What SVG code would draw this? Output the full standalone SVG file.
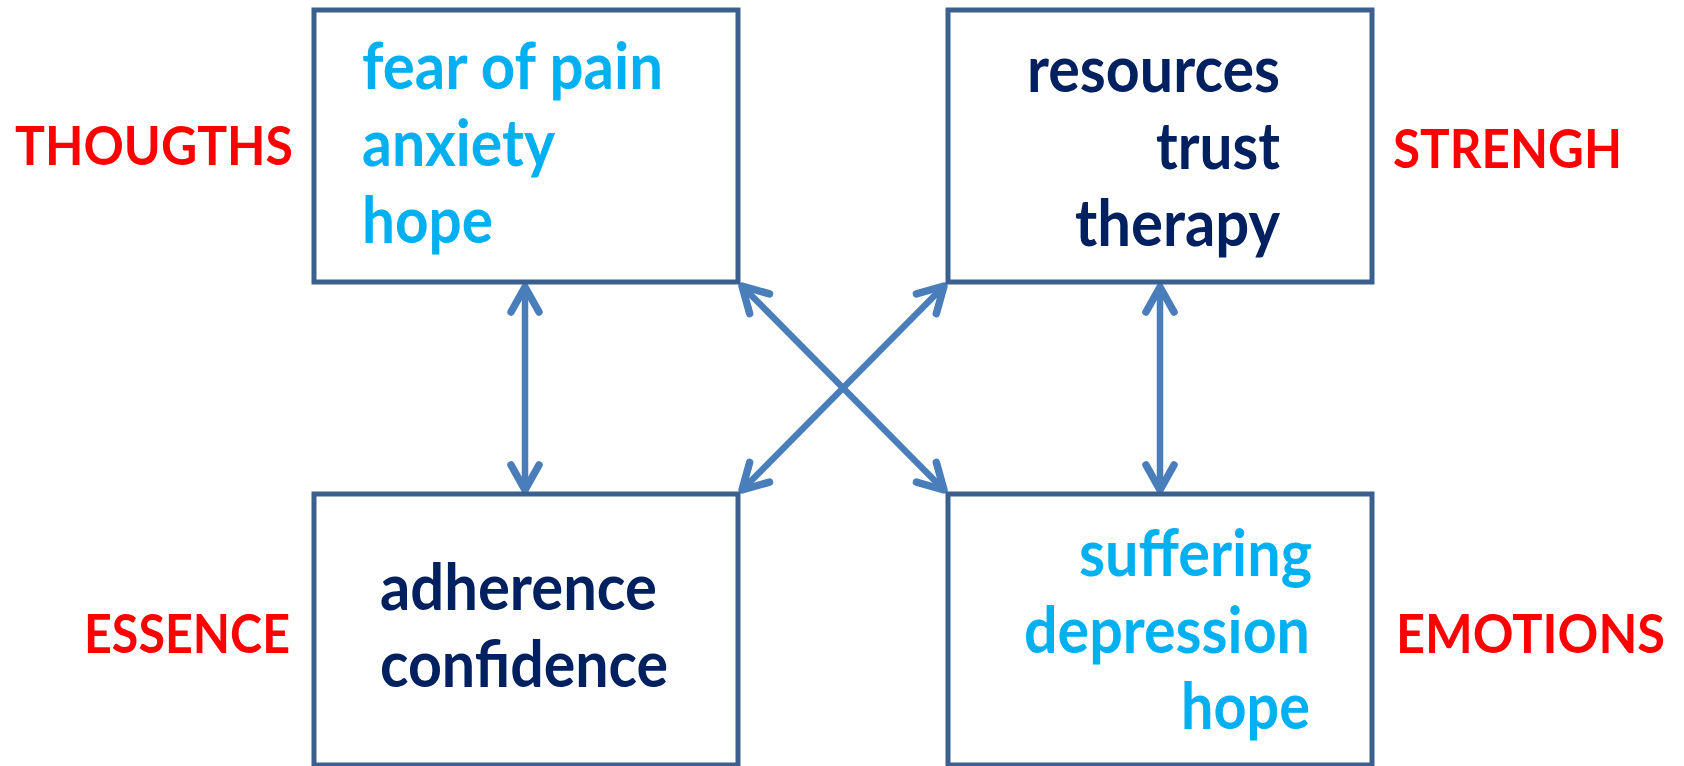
<svg xmlns="http://www.w3.org/2000/svg" width="1684" height="766" viewBox="0 0 1684 766">
<style>
.box{fill:#ffffff;stroke:#3B6090;stroke-width:5}
.t{font-family:Lato,"Open Sans","Liberation Sans",sans-serif;font-weight:bold;font-size:65px}
.lb{fill:#00B0F0}
.dk{fill:#002060}
.rd{font-family:Lato,"Open Sans","Liberation Sans",sans-serif;font-weight:bold;font-size:54px;fill:#FF0000}
.c{stroke:#4A7EBB;stroke-width:6.5;fill:none;marker-start:url(#ah);marker-end:url(#ah)}
</style>
<defs>
<marker id="ah" markerUnits="userSpaceOnUse" orient="auto-start-reverse" refX="0" refY="0" markerWidth="40" markerHeight="40" viewBox="-30 -20 40 40" overflow="visible">
<path d="M -25,-14 L 0,0 L -25,14" fill="none" stroke="#4A7EBB" stroke-width="7.5" stroke-linecap="round" stroke-linejoin="round"/>
</marker>
</defs>
<rect width="1684" height="766" fill="#ffffff"/>
<g id="connectors">
<line class="c" x1="525" y1="287" x2="525" y2="490"/>
<line class="c" x1="1160" y1="287" x2="1160" y2="490"/>
<line class="c" x1="742" y1="286" x2="944" y2="490"/>
<line class="c" x1="742" y1="490" x2="944" y2="286"/>
</g>
<g id="thoughts">
<rect class="box" x="314" y="10" width="424" height="272"/>
<text class="t lb" x="362" y="89" textLength="301" lengthAdjust="spacingAndGlyphs">fear of pain</text>
<text class="t lb" x="362" y="166" textLength="193" lengthAdjust="spacingAndGlyphs">anxiety</text>
<text class="t lb" x="362" y="243" textLength="131" lengthAdjust="spacingAndGlyphs">hope</text>
</g>
<g id="strength">
<rect class="box" x="948" y="10" width="424" height="272"/>
<text class="t dk" x="1027" y="92" textLength="253" lengthAdjust="spacingAndGlyphs">resources</text>
<text class="t dk" x="1156" y="169" textLength="124" lengthAdjust="spacingAndGlyphs">trust</text>
<text class="t dk" x="1075" y="246" textLength="205" lengthAdjust="spacingAndGlyphs">therapy</text>
</g>
<g id="essence">
<rect class="box" x="314" y="494" width="424" height="271"/>
<text class="t dk" x="380" y="610" textLength="277" lengthAdjust="spacingAndGlyphs">adherence</text>
<text class="t dk" x="380" y="687" textLength="288" lengthAdjust="spacingAndGlyphs">confidence</text>
</g>
<g id="emotions">
<rect class="box" x="948" y="494" width="424" height="271"/>
<text class="t lb" x="1079" y="576" textLength="233" lengthAdjust="spacingAndGlyphs">suffering</text>
<text class="t lb" x="1024" y="653" textLength="286" lengthAdjust="spacingAndGlyphs">depression</text>
<text class="t lb" x="1181" y="729" textLength="129" lengthAdjust="spacingAndGlyphs">hope</text>
</g>
<g id="labels">
<text class="rd" x="15" y="165" textLength="278" lengthAdjust="spacingAndGlyphs">THOUGTHS</text>
<text class="rd" x="1393" y="168" textLength="229" lengthAdjust="spacingAndGlyphs">STRENGH</text>
<text class="rd" x="84" y="653" textLength="206" lengthAdjust="spacingAndGlyphs">ESSENCE</text>
<text class="rd" x="1396" y="653" textLength="269" lengthAdjust="spacingAndGlyphs">EMOTIONS</text>
</g>
</svg>
